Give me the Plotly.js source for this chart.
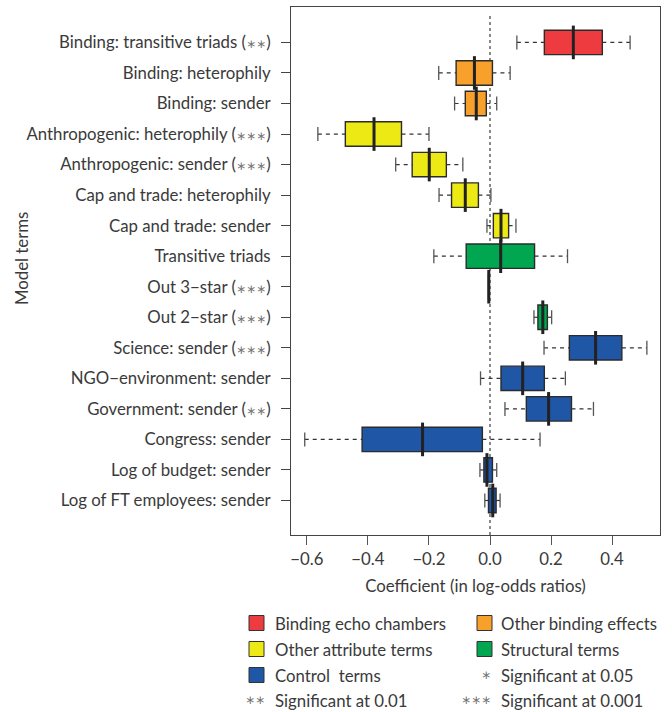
<!DOCTYPE html>
<html>
<head>
<meta charset="utf-8">
<script src="https://cdn.plot.ly/plotly-3.0.1.min.js"></script>
<style>html,body{margin:0;padding:0;background:#fff;}#chart{width:672px;height:712px;}</style>
</head>
<body>
<div id="chart"></div>
<script>
// ---- data ----
const terms = [
  "Binding: transitive triads (∗∗)",
  "Binding: heterophily",
  "Binding: sender",
  "Anthropogenic: heterophily (∗∗∗)",
  "Anthropogenic: sender (∗∗∗)",
  "Cap and trade: heterophily",
  "Cap and trade: sender",
  "Transitive triads",
  "Out 3−star (∗∗∗)",
  "Out 2−star (∗∗∗)",
  "Science: sender (∗∗∗)",
  "NGO−environment: sender",
  "Government: sender (∗∗)",
  "Congress: sender",
  "Log of budget: sender",
  "Log of FT employees: sender"
];
const lowerWhisker = [0.088, -0.168, -0.116, -0.564, -0.309, -0.167, -0.010, -0.184, -0.005, 0.144, 0.177, -0.031, 0.049, -0.607, -0.033, -0.017];
const q1Values     = [0.178, -0.111, -0.081, -0.474, -0.255, -0.126,  0.011, -0.078, -0.005, 0.157, 0.260,  0.036, 0.119, -0.419, -0.020, -0.005];
const medianValues = [0.273, -0.051, -0.045, -0.380, -0.199, -0.081,  0.036,  0.035, -0.004, 0.173, 0.346,  0.107, 0.192, -0.221, -0.010,  0.009];
const q3Values     = [0.368,  0.008, -0.012, -0.290, -0.143, -0.038,  0.061,  0.146, -0.003, 0.188, 0.432,  0.178, 0.267, -0.025,  0.008,  0.020];
const upperWhisker = [0.459,  0.066,  0.022, -0.200, -0.089,  0.003,  0.085,  0.254, -0.003, 0.202, 0.514,  0.247, 0.339,  0.164,  0.022,  0.033];
const termGroup    = [0, 1, 1, 2, 2, 2, 2, 3, 3, 3, 4, 4, 4, 4, 4, 4];
const groupNames   = ["Binding echo chambers", "Other binding effects", "Other attribute terms", "Structural terms", "Control  terms"];
const groupColors  = ["#EE3B40", "#F7A02B", "#EDE914", "#00A650", "#1F56A6"];
const xTickValues  = [-0.6, -0.4, -0.2, 0, 0.2, 0.4];
const xTickLabels  = ["−0.6", "−0.4", "−0.2", "0.0", "0.2", "0.4"];
const sigLabels    = ["∗ Significant at 0.05", "∗∗ Significant at 0.01", "∗∗∗ Significant at 0.001"];

// ---- geometry helpers (layout only) ----
const W = 672, H = 712;
const M = {l: 291, r: 12, t: 7, b: 177};
const PW = W - M.l - M.r, PH = H - M.t - M.b;
const px = v => (v - M.l) / PW;
const py = v => (H - M.b - v) / PH;

const FONT = "Lato, sans-serif";
const FS = 16.8;
const TXT = "#3a3a3a";
const STAR = s => s.replace(/(∗+)/g, '<span style="font-family:DejaVu Sans;font-size:12px;color:#777">$1</span>');
const rows = terms.map((_, i) => i);

const traces = [];
groupNames.forEach((g, gi) => {
  const idx = rows.filter(i => termGroup[i] === gi);
  traces.push({
    type: "box", orientation: "h", name: g, showlegend: false,
    y: idx.map(i => i),
    q1: idx.map(i => q1Values[i]),
    median: idx.map(i => medianValues[i]),
    q3: idx.map(i => q3Values[i]),
    lowerfence: idx.map(i => q1Values[i]),
    upperfence: idx.map(i => q3Values[i]),
    width: 0.8, whiskerwidth: 0,
    fillcolor: groupColors[gi],
    line: {color: "#2b2b2b", width: 1.4},
    hoverinfo: "skip"
  });
});
const wx = [], wy = [];
rows.forEach(i => {
  wx.push(lowerWhisker[i], q1Values[i], null, q3Values[i], upperWhisker[i], null);
  wy.push(i, i, null, i, i, null);
});
traces.push({type: "scatter", mode: "lines", x: wx, y: wy, showlegend: false,
  line: {color: "#333", width: 1.2, dash: "4px,4px"}, hoverinfo: "skip"});
const cx = [], cy = [];
rows.forEach(i => { if (upperWhisker[i] - lowerWhisker[i] > 0.005) { cx.push(lowerWhisker[i], upperWhisker[i]); cy.push(i, i); } });
traces.push({type: "scatter", mode: "markers", x: cx, y: cy, showlegend: false,
  marker: {symbol: "line-ns-open", size: 10, color: "#555", line: {color: "#555", width: 1.3}}, hoverinfo: "skip"});
traces.push({type: "scatter", mode: "markers", x: medianValues, y: rows, showlegend: false,
  marker: {symbol: "line-ns-open", size: 24, color: "#222", line: {color: "#222", width: 3}}, hoverinfo: "skip"});

const annotations = [];
const shapes = [];
shapes.push({type: "line", xref: "x", yref: "paper", x0: 0, x1: 0, y0: 0, y1: py(15),
  line: {color: "#8a8a8a", width: 2, dash: "3px,3px"}, layer: "below"});
const legRowY = [623, 649, 675, 700];
const colSq = [249, 477], colTx = [273, 499];
const legItems = [[0, 0, 0], [1, 0, 1], [2, 1, 0], [3, 1, 1], [4, 2, 0]];
legItems.forEach(([gi, r, c]) => {
  const yc = legRowY[r];
  shapes.push({type: "rect", xref: "paper", yref: "paper",
    x0: px(colSq[c]), x1: px(colSq[c] + 15), y0: py(yc - 7.5), y1: py(yc + 7.5),
    fillcolor: groupColors[gi], line: {color: "#333", width: 1}});
  annotations.push({xref: "paper", yref: "paper", x: px(colTx[c]), y: py(yc), xanchor: "left", yanchor: "middle",
    text: groupNames[gi], showarrow: false, font: {family: FONT, size: FS, color: TXT}});
});
const sigPos = [[2, 1], [3, 0], [3, 1]];
sigLabels.forEach((s, k) => {
  const [r, c] = sigPos[k];
  const parts = s.split(" ");
  const stars = parts[0], rest = parts.slice(1).join(" ");
  annotations.push({xref: "paper", yref: "paper", x: px(colTx[c] - 6), y: py(legRowY[r]), xanchor: "right", yanchor: "middle",
    text: stars, showarrow: false, font: {family: "DejaVu Sans, sans-serif", size: 12, color: "#777"}});
  annotations.push({xref: "paper", yref: "paper", x: px(colTx[c]), y: py(legRowY[r]), xanchor: "left", yanchor: "middle",
    text: rest, showarrow: false, font: {family: FONT, size: FS, color: TXT}});
});
annotations.push({xref: "paper", yref: "paper", x: px(21), y: py(259), xanchor: "center", yanchor: "middle",
  text: "Model terms", textangle: -90, showarrow: false, font: {family: FONT, size: FS, color: TXT}});

const layout = {
  width: W, height: H,
  margin: M,
  paper_bgcolor: "#fff", plot_bgcolor: "#fff",
  showlegend: false,
  boxmode: "overlay",
  font: {family: FONT, size: FS, color: TXT},
  xaxis: {
    range: [-0.652, 0.557], tickvals: xTickValues, ticktext: xTickLabels,
    ticks: "outside", ticklen: 9, tickcolor: "#555", tickwidth: 1,
    showline: true, mirror: true, linecolor: "#444", linewidth: 1,
    showgrid: false, zeroline: false,
    tickfont: {family: FONT, size: FS, color: TXT},
    title: {text: "Coefficient (in log-odds ratios)", font: {family: FONT, size: FS, color: TXT}, standoff: 12}
  },
  yaxis: {
    range: [16.13, -1.16], tickvals: rows, ticktext: terms.map(STAR),
    ticks: "outside", ticklen: 9, tickcolor: "#444", tickwidth: 1,
    showline: true, mirror: true, linecolor: "#444", linewidth: 1,
    showgrid: false, zeroline: false, automargin: false,
    tickfont: {family: FONT, size: FS, color: TXT}, ticklabelstandoff: 7
  },
  shapes: shapes,
  annotations: annotations
};
Plotly.newPlot("chart", traces, layout, {displayModeBar: false, staticPlot: true});
</script>
</body>
</html>
